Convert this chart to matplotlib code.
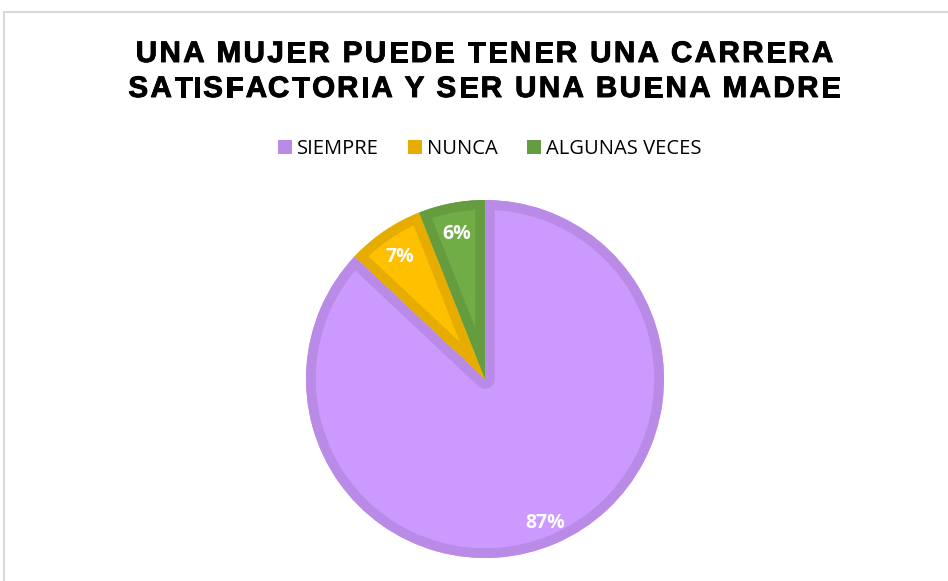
import matplotlib
matplotlib.use("Agg")
import matplotlib.pyplot as plt
import matplotlib.patheffects as pe
import matplotlib.transforms as mtransforms
from matplotlib.patches import Rectangle, Patch, Wedge
from matplotlib.font_manager import FontProperties
from matplotlib.textpath import TextToPath

title_lines = ["UNA MUJER PUEDE TENER UNA CARRERA", "SATISFACTORIA Y SER UNA BUENA MADRE"]
categories = ["SIEMPRE", "NUNCA", "ALGUNAS VECES"]
values = [87, 7, 6]
fill_colors = ["#CC99FF", "#FFC000", "#70AD47"]
edge_colors = ["#B98AE6", "#E6AD00", "#659C40"]

W, H = 948, 581
DPI = 100
fig = plt.figure(figsize=(W / DPI, H / DPI), dpi=DPI)

# chart frame (right and bottom run off the canvas)
fig.patches.append(Rectangle((4 / W, -0.1), 1.2, (H - 12) / H + 0.1,
                             transform=fig.transFigure, fill=False,
                             edgecolor="#D9D9D9", linewidth=1.5))

# letter-spaced bold title, laid out one glyph at a time
title_prop = FontProperties(family="Liberation Sans", weight="bold", size=21.3)
t2p = TextToPath()
tracking = 2.4  # extra px between glyphs
bolden = [pe.withStroke(linewidth=0.7, foreground="#000000")]


def text_px(s):
    w, _, _ = t2p.get_text_width_height_descent(s, title_prop, ismath=False)
    return w * DPI / 72.0


for line, baseline in zip(title_lines, [62, 97]):
    total = text_px(line) + tracking * (len(line) - 1)
    x0 = 484.5 - total / 2
    for i, ch in enumerate(line):
        if ch == " ":
            continue
        x = x0 + text_px(line[:i]) + tracking * i
        fig.text(x / W, 1 - baseline / H, ch, ha="left", va="baseline",
                 fontproperties=title_prop, color="#000000", path_effects=bolden)

# pie axes: 400 px square centred on the pie
cx, cy, half = 485, 379, 200
ax = fig.add_axes([(cx - half) / W, (H - cy - half) / H, 2 * half / W, 2 * half / H])

wedges, texts, autotexts = ax.pie(
    values, colors=fill_colors, startangle=90, counterclock=False,
    radius=0.895, autopct="%1.0f%%", pctdistance=0.85,
    wedgeprops=dict(linewidth=0),
    textprops=dict(color="white", fontsize=14, fontweight="bold", family="Open Sans"))
ax.set_xlim(-1, 1)
ax.set_ylim(-1, 1)
ax.set_aspect("equal")
ax.axis("off")

# inner border: a stroked copy of each wedge, clipped to the filled wedge
for w, ec in zip(wedges, edge_colors):
    ring = Wedge(w.center, w.r, w.theta1, w.theta2, fill=False,
                 edgecolor=ec, linewidth=14, joinstyle="round", zorder=w.get_zorder())
    ax.add_patch(ring)
    ring.set_clip_path(w)

# nudge the percentage labels slightly below their anchor
nudge = mtransforms.ScaledTranslation(0, -3 / 72, fig.dpi_scale_trans)
for t in autotexts:
    t.set_zorder(5)
    t.set_transform(t.get_transform() + nudge)

handles = [Patch(facecolor=c, edgecolor="none") for c in edge_colors]
fig.legend(handles, categories, loc="center", bbox_to_anchor=(490 / W, 1 - 149 / H),
           ncol=3, frameon=False,
           prop=dict(family="Open Sans", size=14.5),
           handlelength=0.7, handleheight=0.7, handletextpad=0.25,
           columnspacing=1.45)

fig.savefig("out.png", dpi=DPI)
